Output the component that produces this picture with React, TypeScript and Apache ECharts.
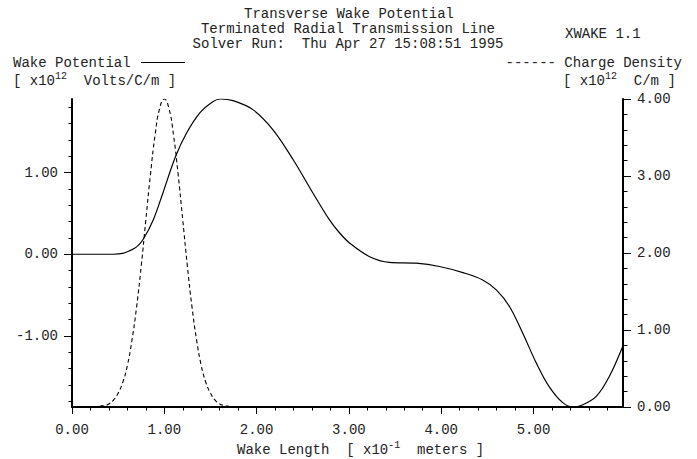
import React, { useEffect, useRef } from "react";
import * as echarts from "echarts";

// Wake potential (solid, left axis)
const wakeX = [0.0, 0.3, 0.45, 0.55, 0.62, 0.7, 0.77, 0.88, 0.985, 1.12, 1.24, 1.385, 1.53, 1.61, 1.745, 1.96, 2.18, 2.4, 2.61, 2.79, 2.9, 3.01, 3.225, 3.44, 3.73, 3.98, 4.235, 4.45, 4.6, 4.74, 4.885, 5.03, 5.17, 5.32, 5.43, 5.53, 5.68, 5.82, 5.97];
const wakeV = [0.0, 0.0, 0.0, 0.01, 0.04, 0.09, 0.18, 0.42, 0.75, 1.19, 1.48, 1.73, 1.87, 1.9, 1.88, 1.77, 1.52, 1.15, 0.75, 0.42, 0.26, 0.135, -0.03, -0.1, -0.11, -0.15, -0.225, -0.315, -0.44, -0.64, -0.97, -1.33, -1.62, -1.82, -1.87, -1.845, -1.74, -1.5, -1.12];

// Charge density (dashed, right axis)
const chargeX = [0.3, 0.35, 0.4, 0.45, 0.5, 0.55, 0.6, 0.65, 0.7, 0.75, 0.8, 0.85, 0.9, 0.95, 1.0, 1.05, 1.1, 1.15, 1.2, 1.25, 1.3, 1.35, 1.4, 1.45, 1.5, 1.55, 1.6, 1.65, 1.7];
const chargeV = [0.01, 0.02, 0.04, 0.09, 0.18, 0.32, 0.54, 0.87, 1.3, 1.83, 2.43, 3.02, 3.53, 3.88, 4.0, 3.88, 3.53, 3.02, 2.43, 1.83, 1.3, 0.87, 0.54, 0.32, 0.18, 0.09, 0.04, 0.02, 0.01];

const xMajorTicks = [0, 1, 2, 3, 4, 5];
const xMinorTicks = [0, 0.2, 0.4, 0.6, 0.8, 1, 1.2, 1.4, 1.6, 1.8, 2, 2.2, 2.4, 2.6, 2.8, 3, 3.2, 3.4, 3.6, 3.8, 4, 4.2, 4.4, 4.6, 4.8, 5, 5.2, 5.4, 5.6, 5.8];
const leftMajorTicks = [-1, 0, 1];
const leftMinorTicks = [-1.8, -1.6, -1.4, -1.2, -1, -0.8, -0.6, -0.4, -0.2, 0, 0.2, 0.4, 0.6, 0.8, 1, 1.2, 1.4, 1.6, 1.8];
const rightMajorTicks = [0, 1, 2, 3, 4];
const rightMinorTicks = [0, 0.2, 0.4, 0.6, 0.8, 1, 1.2, 1.4, 1.6, 1.8, 2, 2.2, 2.4, 2.6, 2.8, 3, 3.2, 3.4, 3.6, 3.8, 4];

const titleLines = [
  "Transverse Wake Potential",
  "Terminated Radial Transmission Line",
  "Solver Run:  Thu Apr 27 15:08:51 1995",
];

const FONT = "14px 'Liberation Mono', 'Courier New', monospace";
const SUP = "10px 'Liberation Mono', 'Courier New', monospace";
const CW = 8.4;
const INK = "#222";

const txt = (text: string, x: number, y: number, align = "left", font = FONT) => ({
  type: "text",
  x,
  y,
  silent: true,
  style: {
    text,
    font,
    fill: INK,
    textAlign: align,
    align,
    textVerticalAlign: "middle",
    verticalAlign: "middle",
  },
});

export default function App() {
  const ref = useRef<HTMLDivElement>(null);
  useEffect(() => {
    if (!ref.current) return;
    const chart = echarts.init(ref.current, null, { renderer: "svg" });
    const fmt = (v: number) => v.toFixed(2);
    const axisLine = { show: true, onZero: false, lineStyle: { color: "#000", width: 2 } };
    const noLine = { show: false, onZero: false };
    const tickStyle = { color: "#000", width: 1 };
    const labelStyle = { fontFamily: "'Liberation Mono', 'Courier New', monospace", fontSize: 14, color: INK };

    const xName1 = "Wake Length  [ x10";
    const xNameX = 237;
    const unit1 = "[ x10";
    const rightUnitX = 563;

    chart.setOption({
      animation: false,
      backgroundColor: "#fff",
      grid: { left: 72, right: 74, top: 99, bottom: 52, containLabel: false },
      xAxis: [
        {
          type: "value", min: 0, max: 5.97, position: "bottom",
          axisLine,
          splitLine: { show: false },
          axisTick: { show: true, inside: false, length: 7, customValues: xMajorTicks, lineStyle: tickStyle },
          axisLabel: { show: true, customValues: xMajorTicks, formatter: fmt, margin: 16, ...labelStyle },
        },
        {
          type: "value", min: 0, max: 5.97, position: "bottom", offset: 0,
          axisLine: noLine,
          splitLine: { show: false },
          axisTick: { show: true, inside: false, length: 3.5, customValues: xMinorTicks, lineStyle: tickStyle },
          axisLabel: { show: false },
        },
      ],
      yAxis: [
        {
          type: "value", min: -1.87, max: 1.9, position: "left",
          axisLine,
          splitLine: { show: false },
          axisTick: { show: true, inside: false, length: 8, customValues: leftMajorTicks, lineStyle: tickStyle },
          axisLabel: { show: true, customValues: leftMajorTicks, formatter: fmt, margin: 14, ...labelStyle },
        },
        {
          type: "value", min: -1.87, max: 1.9, position: "left", offset: 0,
          axisLine: noLine,
          splitLine: { show: false },
          axisTick: { show: true, inside: false, length: 3.5, customValues: leftMinorTicks, lineStyle: tickStyle },
          axisLabel: { show: false },
        },
        {
          type: "value", min: 0, max: 4, position: "right", offset: 0,
          axisLine,
          splitLine: { show: false },
          axisTick: { show: true, inside: false, length: 8, customValues: rightMajorTicks, lineStyle: tickStyle },
          axisLabel: { show: true, customValues: rightMajorTicks, formatter: fmt, margin: 14, ...labelStyle },
        },
        {
          type: "value", min: 0, max: 4, position: "right", offset: 0,
          axisLine: noLine,
          splitLine: { show: false },
          axisTick: { show: true, inside: false, length: 4.5, customValues: rightMinorTicks, lineStyle: tickStyle },
          axisLabel: { show: false },
        },
      ],
      series: [
        {
          name: "Wake Potential",
          type: "line",
          xAxisIndex: 0,
          yAxisIndex: 0,
          data: wakeX.map((x, i) => [x, wakeV[i]]),
          showSymbol: false,
          smooth: 0.35,
          lineStyle: { color: "#000", width: 1.2, type: "solid" },
          silent: true,
        },
        {
          name: "Charge Density",
          type: "line",
          xAxisIndex: 0,
          yAxisIndex: 2,
          data: chargeX.map((x, i) => [x, chargeV[i]]),
          showSymbol: false,
          smooth: true,
          lineStyle: { color: "#000", width: 1.1, type: [4, 3] },
          silent: true,
        },
      ],
      graphic: [
        txt(titleLines[0], 349, 14, "center"),
        txt(titleLines[1], 348, 29, "center"),
        txt(titleLines[2], 348, 43.5, "center"),
        txt("XWAKE 1.1", 565, 34),
        // left legend
        txt("Wake Potential", 13, 63),
        { type: "line", silent: true, shape: { x1: 141, y1: 62.5, x2: 185, y2: 62.5 }, style: { stroke: "#000", lineWidth: 1.2 } },
        txt(unit1, 13, 81),
        txt("12", 13 + unit1.length * CW, 76.5, "left", SUP),
        txt("  Volts/C/m ]", 13 + unit1.length * CW + 12, 81),
        // right legend
        txt("------ Charge Density", 682, 63, "right"),
        txt(unit1, rightUnitX, 81),
        txt("12", rightUnitX + unit1.length * CW, 76.5, "left", SUP),
        txt("  C/m ]", rightUnitX + unit1.length * CW + 12, 81),
        // x axis name
        txt(xName1, xNameX, 450),
        txt("-1", xNameX + xName1.length * CW, 445.5, "left", SUP),
        txt("  meters ]", xNameX + xName1.length * CW + 12, 450),
      ],
    });
    return () => chart.dispose();
  }, []);
  return (
    <div
      ref={ref}
      style={{ position: "fixed", left: 0, top: 0, width: 697, height: 459, background: "#fff" }}
    />
  );
}
